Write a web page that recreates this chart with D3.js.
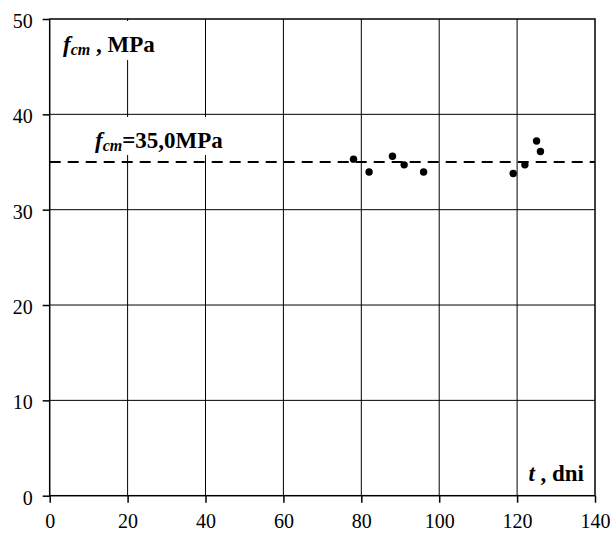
<!DOCTYPE html>
<html><head><meta charset="utf-8">
<script src="https://cdn.jsdelivr.net/npm/d3@7"></script>
<style>body{margin:0;background:#fff}svg{display:block}</style>
</head><body>
<script>
const days = [78, 82, 88, 91, 96, 119, 122, 125, 126];
const fcm = [35.3, 33.95, 35.6, 34.7, 33.95, 33.8, 34.7, 37.2, 36.1];
const meanValue = 35.0;
const xTicks = [0, 20, 40, 60, 80, 100, 120, 140];
const yTicks = [0, 10, 20, 30, 40, 50];

const FONT = "Liberation Serif, Times New Roman, serif";
const W = 612, H = 537;
const svg = d3.select("body").append("svg").attr("width", W).attr("height", H);
const x = d3.scaleLinear().domain([0, 140]).range([49.7, 595]);
const y = d3.scaleLinear().domain([0, 50]).range([495.7, 19]);

// grid
svg.append("g").selectAll("line.v").data(xTicks.slice(1, -1)).join("line")
  .attr("x1", d => x(d)).attr("x2", d => x(d)).attr("y1", y(50)).attr("y2", y(0))
  .attr("stroke", "#000").attr("stroke-width", 1);
svg.append("g").selectAll("line.h").data(yTicks.slice(1, -1)).join("line")
  .attr("x1", x(0)).attr("x2", x(140)).attr("y1", d => y(d)).attr("y2", d => y(d))
  .attr("stroke", "#000").attr("stroke-width", 1);

// white boxes behind labels
svg.append("rect").attr("x", 56).attr("y", 21).attr("width", 110).attr("height", 39).attr("fill", "#fff");
svg.append("rect").attr("x", 88).attr("y", 117).attr("width", 150).attr("height", 38).attr("fill", "#fff");
svg.append("rect").attr("x", 522).attr("y", 458).attr("width", 68).attr("height", 32).attr("fill", "#fff");

// mean dashed line
svg.append("line").attr("x1", x(0)).attr("x2", x(140)).attr("y1", y(meanValue)).attr("y2", y(meanValue))
  .attr("stroke", "#000").attr("stroke-width", 2.2).attr("stroke-dasharray", "11,7");

// frame
svg.append("rect").attr("x", x(0)).attr("y", y(50)).attr("width", x(140) - x(0)).attr("height", y(0) - y(50))
  .attr("fill", "none").attr("stroke", "#000").attr("stroke-width", 1.5);

// axes
const ax = svg.append("g").attr("transform", `translate(0,${y(0)})`)
  .call(d3.axisBottom(x).tickValues(xTicks).tickSize(7).tickPadding(11).tickSizeOuter(0));
const ay = svg.append("g").attr("transform", `translate(${x(0)},0)`)
  .call(d3.axisLeft(y).tickValues(yTicks).tickSize(7).tickPadding(10).tickSizeOuter(0));
[ax, ay].forEach(g => {
  g.attr("font-family", FONT).attr("font-size", 20);
  g.select(".domain").remove();
  g.selectAll(".tick line").attr("stroke", "#000").attr("stroke-width", 1.5);
  g.selectAll("text").attr("fill", "#000");
});
ay.selectAll("text").attr("dy", "0.42em");

// points
svg.append("g").selectAll("circle").data(days).join("circle")
  .attr("cx", d => x(d)).attr("cy", (d, i) => y(fcm[i])).attr("r", 3.7).attr("fill", "#000");

// labels
function label(xp, yp, parts, anchor) {
  const t = svg.append("text").attr("x", xp).attr("y", yp).attr("text-anchor", anchor || "start")
    .attr("font-family", FONT).attr("font-weight", "bold").attr("font-size", 23).attr("fill", "#000");
  parts.forEach(p => {
    const s = t.append("tspan").text(p.t);
    if (p.i) s.attr("font-style", "italic");
    if (p.sub) s.attr("font-size", 16).attr("dy", p.dy);
    else if (p.dy) s.attr("dy", p.dy);
  });
}
label(63, 52, [{t: "f", i: 1}, {t: "cm", i: 1, sub: 1, dy: 3}, {t: " , MPa", dy: -3}]);
label(95, 148, [{t: "f", i: 1}, {t: "cm", i: 1, sub: 1, dy: 3}, {t: "=35,0MPa", dy: -3}]);
label(584, 481, [{t: "t", i: 1}, {t: " , dni"}], "end");
</script>
</body></html>
